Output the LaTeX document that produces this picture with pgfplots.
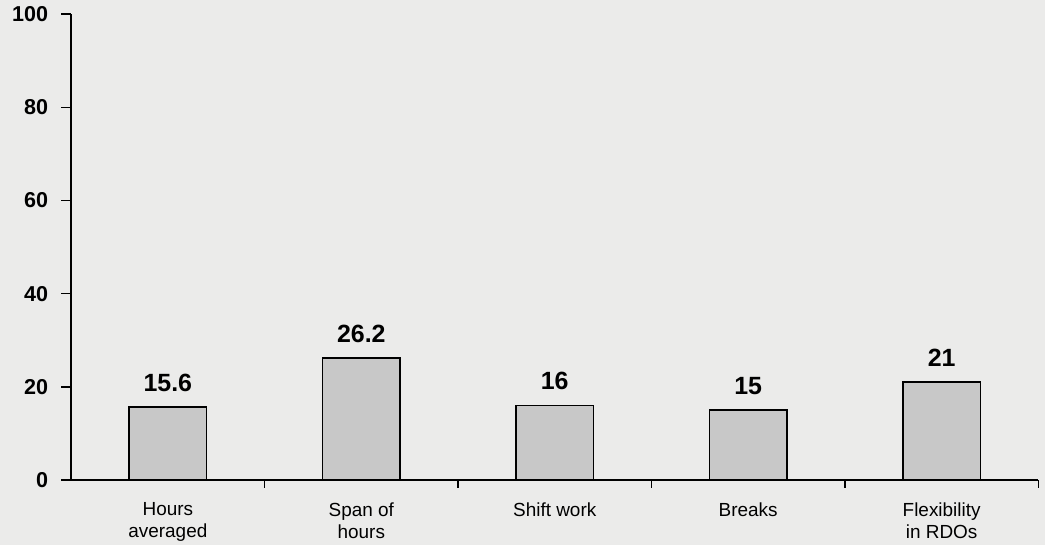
\documentclass[border=0pt]{standalone}
\usepackage{pgfplots}
\pgfplotsset{compat=1.18}
\usepackage{fontspec}
\setmainfont{Liberation Sans}
\definecolor{paper}{HTML}{EBEBEA}
\definecolor{barfill}{HTML}{C8C8C8}
\begin{document}
\pagecolor{paper}
\begin{tikzpicture}
\begin{axis}[
  scale only axis, width=485pt, height=233.5pt,
  xmin=-0.5, xmax=4.5, ymin=0, ymax=100,
  axis x line*=bottom, axis y line*=left,
  axis line style={line width=0.8pt},
  /pgf/number format/assume math mode=true,
  ytick={0,20,...,100},
  yticklabel style={font=\bfseries\fontsize{10.8}{12}\selectfont, xshift=-3pt},
  ytick style={line width=0.8pt, black},
  tick align=outside, major tick length=5pt,
  xtick={0,...,4},
  xticklabels={{Hours\\averaged},{Span of\\hours},{Shift work},{Breaks},{Flexibility\\in RDOs}},
  xticklabel style={align=center, font=\fontsize{9.5}{11}\selectfont, anchor=north, inner ysep=1.5pt, yshift=-4.8pt},
  x tick style={draw=none},
  extra x ticks={0.5,1.5,2.5,3.5,4.5},
  extra x tick labels={},
  extra x tick style={x tick style={draw=black, line width=0.8pt}, major tick length=4pt},
  ybar, bar width=0.4,
  nodes near coords,
  every node near coord/.style={font=\bfseries\fontsize{12.5}{14}\selectfont, yshift=4pt},
  clip=false,
]
\addplot[fill=barfill, draw=black, line width=0.8pt] coordinates {(0,15.6) (1,26.2) (2,16) (3,15) (4,21)};
\end{axis}
\end{tikzpicture}
\end{document}
